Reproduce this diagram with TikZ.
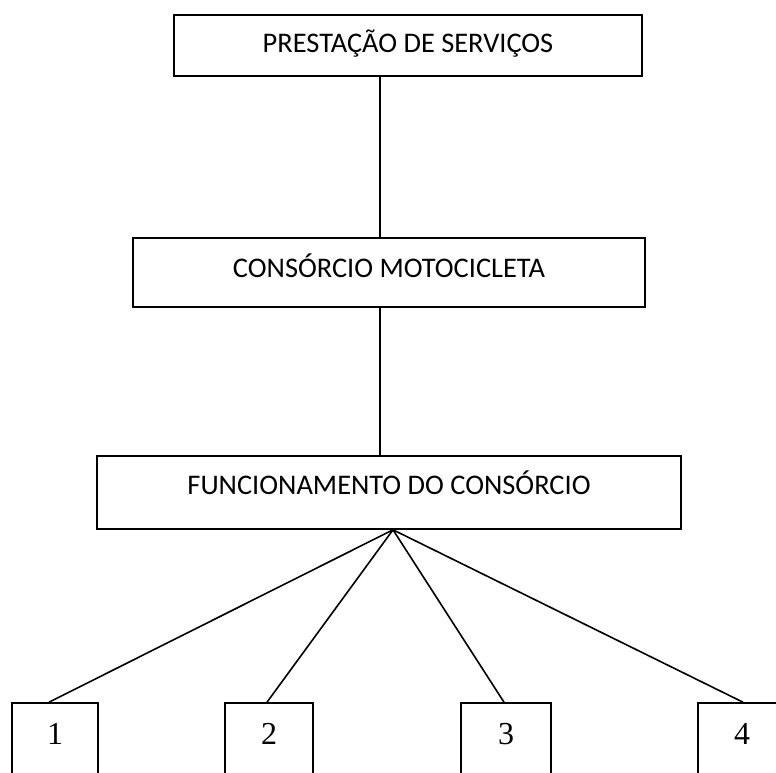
\documentclass[tikz,border=0pt]{standalone}
\usepackage{fontspec}
\setmainfont{Carlito}
\newfontfamily\numfont{Liberation Serif}
\begin{document}
\begin{tikzpicture}[x=1pt,y=-1pt,
  box/.style={draw=black, line width=1.6pt, rectangle, inner sep=0pt,
    font=\fontsize{28.4}{30}\selectfont, text height=20pt},
  numbox/.style={draw=black, line width=1.6pt, rectangle, inner sep=0pt,
    font=\numfont\fontsize{32}{34}\selectfont, minimum height=90pt,
    text height=22pt, text depth=30pt},
  link/.style={draw=black, line width=1.6pt}]
\useasboundingbox (0,0) rectangle (776,773);
\clip (0,0) rectangle (776,773);
\fill[white] (0,0) rectangle (776,773);

\node[box, minimum width=468pt, minimum height=61pt, text depth=6.7pt]
  (p) at (408,45.5) {PRESTAÇÃO DE SERVIÇOS};
\node[box, minimum width=512pt, minimum height=69pt, text depth=10.7pt]
  (c) at (389,272.5) {CONSÓRCIO MOTOCICLETA};
\node[box, minimum width=584pt, minimum height=73pt, text depth=15.7pt]
  (f) at (389,492.5) {FUNCIONAMENTO DO CONSÓRCIO};

\node[numbox, minimum width=86pt] (b1) at (55,748) {1};
\node[numbox, minimum width=88pt] (b2) at (269,748) {2};
\node[numbox, minimum width=90pt] (b3) at (506,748) {3};
\node[numbox, minimum width=88pt] (b4) at (742,748) {4};

\coordinate (spine) at (380,0);
\coordinate (apex) at (393,0);

\draw[link] (p.south -| spine) -- (c.north -| spine);
\draw[link] (c.south -| spine) -- (f.north -| spine);

\draw[link] (f.south -| apex) -- ([xshift=-6pt]b1.north);
\draw[link] (f.south -| apex) -- ([xshift=-2pt]b2.north);
\draw[link] (f.south -| apex) -- ([xshift=-2pt]b3.north);
\draw[link] (f.south -| apex) -- ([xshift=1pt]b4.north);
\end{tikzpicture}
\end{document}
